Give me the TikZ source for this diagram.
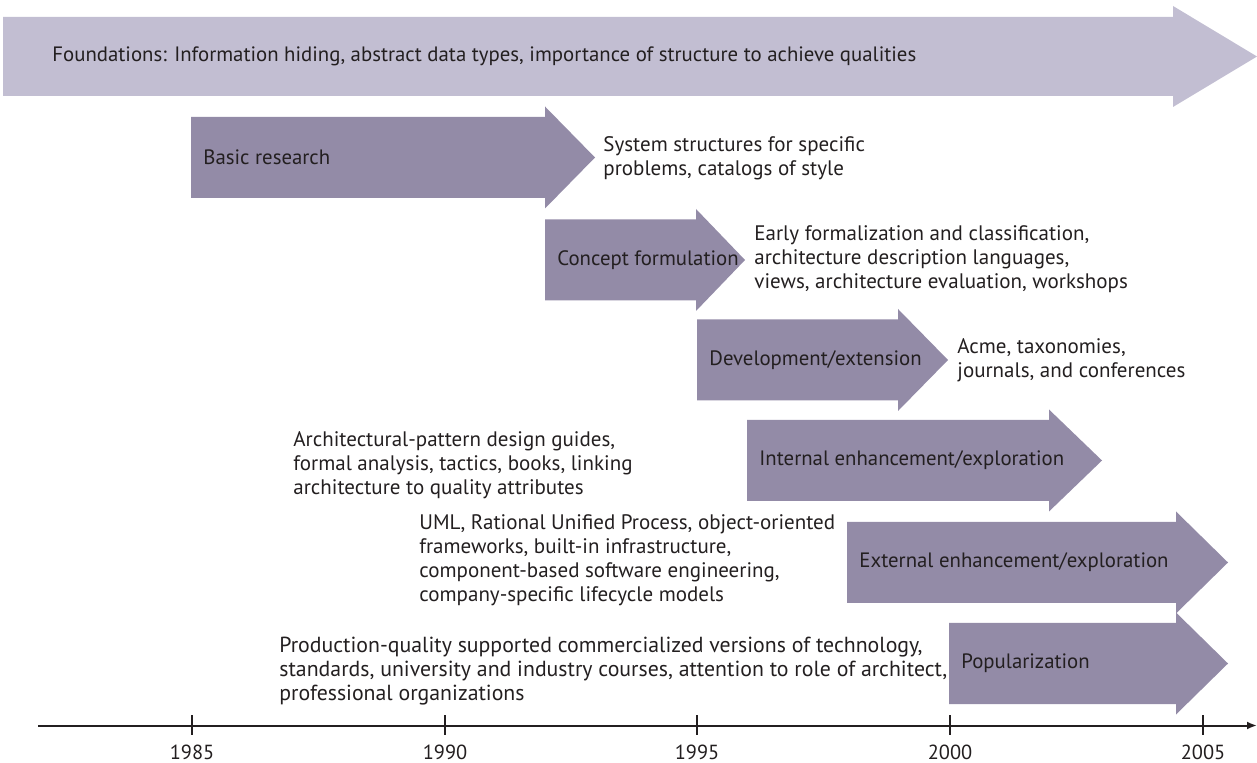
\documentclass[tikz,border=0pt]{standalone}
\usepackage{fontspec}
\setmainfont{PT Sans}
\usetikzlibrary{arrows.meta}

\definecolor{foundfill}{RGB}{194,190,210}
\definecolor{phasefill}{RGB}{147,139,167}
\definecolor{inkgray}{RGB}{35,31,32}

\begin{document}
\begin{tikzpicture}[x=0.5pt, y=-0.5pt,
  phase/.style={fill=phasefill},
  phaselabel/.style={anchor=west, inner sep=0pt, text=inkgray, font=\fontsize{10.4}{12}\selectfont},
  desc/.style={anchor=west, inner sep=0pt, align=left, text=inkgray, font=\fontsize{10.5}{12}\selectfont},
  yearlabel/.style={text=inkgray, font=\fontsize{10.2}{11}\selectfont}]
\useasboundingbox (0,0) rectangle (1257,763);

% foundations band across the whole period
\fill[fill=foundfill] (3,17) -- (1173,17) -- (1173,6) -- (1257,56.5) -- (1173,107) -- (1173,96) -- (3,96) -- cycle;
\node[phaselabel] (found) at (52,56.5) {Foundations: Information hiding, abstract data types, importance of structure to achieve qualities};

% phases
\foreach \xa/\xb/\xc/\yc/\nm/\txt in {
  191/545/595/157.5/basic/{Basic research},
  545/696/745/260/concept/{Concept formulation},
  697/898/948/360/devel/{Development/extension},
  747/1049/1102/460.5/internal/{Internal enhancement/exploration},
  847/1176/1228/562.5/external/{External enhancement/exploration},
  949/1176/1228/663.5/popular/{Popularization}}{
  \fill[phase] (\xa,\yc-40.5) -- (\xb,\yc-40.5) -- (\xb,\yc-51) -- (\xc,\yc) -- (\xb,\yc+51) -- (\xb,\yc+40.5) -- (\xa,\yc+40.5) -- cycle;
  \node[phaselabel] (\nm) at (\xa+12,\yc) {\txt};
}

% results of each phase
\node[desc] (basicres) at (603,158) {System structures for specific\\problems, catalogs of style};
\node[desc] (conceptres) at (754,259) {Early formalization and classification,\\architecture description languages,\\views, architecture evaluation, workshops};
\node[desc] (develres) at (957,360.5) {Acme, taxonomies,\\journals, and conferences};
\node[desc] (internalres) at (293,465) {Architectural-pattern design guides,\\formal analysis, tactics, books, linking\\architecture to quality attributes};
\node[desc] (externalres) at (419,560.5) {UML, Rational Unified Process, object-oriented\\frameworks, built-in infrastructure,\\component-based software engineering,\\company-specific lifecycle models};
\node[desc, font=\fontsize{10.9}{11.8}\selectfont] (popularres) at (279,671) {Production-quality supported commercialized versions of technology,\\standards, university and industry courses, attention to role of architect,\\professional organizations};

% time axis
\coordinate (axstart) at (38,725.5);
\coordinate (axend) at (1257,725.5);
\draw[line width=1pt, draw=inkgray, -{Latex[length=5pt,width=4pt]}] (axstart) -- (axend);
\foreach \x/\yr in {192/1985, 445/1990, 697/1995, 950/2000, 1203/2005}{
  \draw[line width=0.8pt, draw=inkgray] (\x,715) -- (\x,735);
  \node[yearlabel] (y\yr) at (\x,752) {\yr};
}
\end{tikzpicture}
\end{document}
